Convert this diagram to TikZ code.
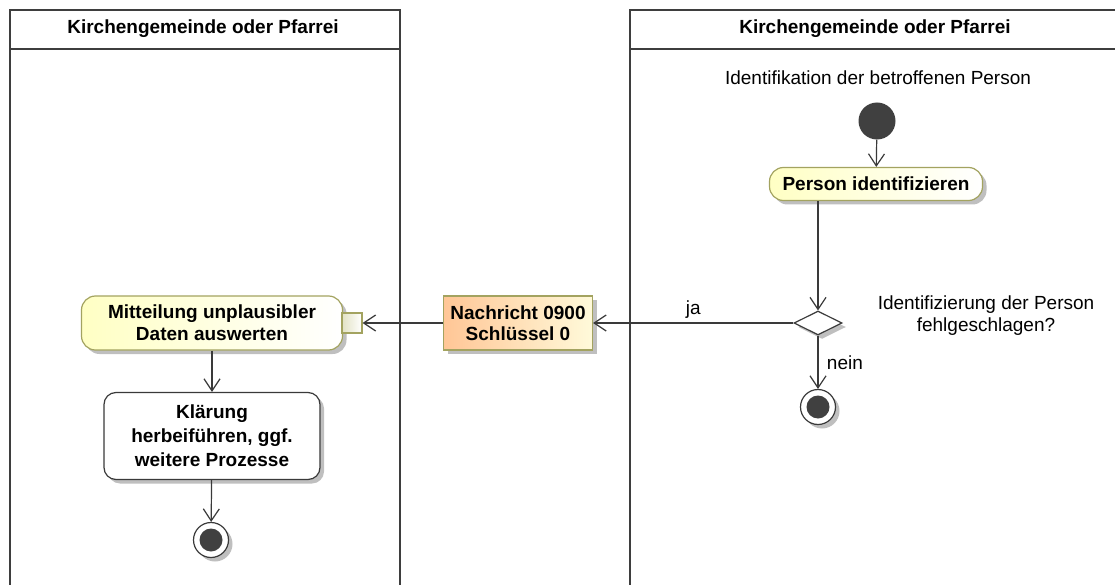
\documentclass[tikz,border=0pt]{standalone}
\usepackage{fontspec}
\setmainfont{Liberation Sans}
\usetikzlibrary{positioning, arrows.meta, shapes.geometric, shadows}
\definecolor{lanegrey}{RGB}{62,62,62}
\definecolor{ink}{RGB}{58,58,58}
\definecolor{olive}{RGB}{163,163,96}
\definecolor{cream}{RGB}{255,255,196}
\definecolor{peach}{RGB}{255,198,150}
\definecolor{pale}{RGB}{255,250,218}
\definecolor{pinfill}{RGB}{226,226,196}
\definecolor{shade}{RGB}{175,175,175}
\definecolor{dotgrey}{RGB}{64,64,64}

\begin{document}
\begin{tikzpicture}[
  x=1pt, y=-1pt,
  font=\fontsize{19}{22}\selectfont,
  lane/.style={draw=lanegrey, line width=2.2pt},
  head/.style={font=\fontsize{19}{22}\selectfont\bfseries},
  shd/.style={drop shadow={shadow xshift=4pt, shadow yshift=-4pt, fill=shade, opacity=0.8}},
  act/.style={shd, draw=olive, line width=1.2pt, rounded corners=14pt,
              left color=cream, right color=white, align=center,
              font=\fontsize{19}{22}\selectfont\bfseries, inner sep=0pt},
  wbox/.style={act, draw=ink, rounded corners=12pt, fill=white, left color=white, right color=white},
  obj/.style={shd, draw=olive, line width=1.2pt, left color=peach, right color=pale,
              align=center, font=\fontsize{19}{21}\selectfont\bfseries, inner sep=0pt},
  pinbox/.style={draw=olive, line width=1.2pt, left color=pinfill, right color=white,
                 minimum size=20pt, inner sep=0pt},
  initial/.style={circle, fill=dotgrey, minimum size=37pt, inner sep=0pt},
  final/.style={shd, circle, draw=ink, fill=white, line width=1.2pt, minimum size=35pt, inner sep=0pt},
  finaldot/.style={circle, fill=dotgrey, minimum size=23pt, inner sep=0pt},
  decision/.style={shd, diamond, draw=ink, fill=white, line width=1.2pt,
                   minimum width=48pt, minimum height=24pt, inner sep=0pt},
  flow/.style={draw=ink, line width=1.2pt, -{Straight Barb[length=12pt, width=16pt, line width=1.2pt]}}
]
\useasboundingbox (0,0) rectangle (1115,585);

% swimlanes
\draw[lane] (10,590) -- (10,10) -- (400,10) -- (400,590);
\draw[lane] (10,49) -- (400,49);
\draw[lane] (630,590) -- (630,10) -- (1120,10);
\draw[lane] (630,49) -- (1120,49);
\node[head] (lhead) at (203,29) {Kirchengemeinde oder Pfarrei};
\node[head] (rhead) at (875,29) {Kirchengemeinde oder Pfarrei};

% right lane
\node (startlbl) at (878,78) {Identifikation der betroffenen Person};
\node[initial] (start) at (877,121) {};
\node[act, minimum width=213pt, minimum height=33pt] (ident) at (876,184) {Person identifizieren};
\node[decision] (dec) at (818,323) {};
\node[align=center] (declbl) at (986,316) {Identifizierung der Person\\fehlgeschlagen?};
\node[final] (end2) at (818,407) {};
\node[finaldot] (end2in) at (end2) {};

% message between lanes
\node[obj, minimum width=149pt, minimum height=54pt] (msg) at (518,323) {Nachricht 0900\\Schlüssel 0};

% left lane
\node[act, minimum width=261pt, minimum height=54pt] (eval) at (212,323) {Mitteilung unplausibler\\Daten auswerten};
\node[pinbox] (pin) at (352,323) {};
\node[wbox, minimum width=216pt, minimum height=87pt, font=\fontsize{19}{24}\selectfont\bfseries] (clar) at (212,436)
  {Klärung\\herbeiführen, ggf.\\weitere Prozesse};
\node[final] (end1) at (211,540) {};
\node[finaldot] (end1in) at (end1) {};

\draw[flow] (start) -- (ident);
\draw[flow] (ident.south -| dec.north) -- (dec.north);
\draw[flow] (dec.west) -- node[above=1pt, pos=0.5] (ja) {ja} (msg.east);
\draw[flow] (dec.south) -- node[right=5pt] (nein) {nein} (end2);
\draw[flow] (msg.west) -- (pin.east);
\draw[flow] (eval.south) -- (clar.north);
\draw[flow] (clar) -- (end1);

\end{tikzpicture}
\end{document}
